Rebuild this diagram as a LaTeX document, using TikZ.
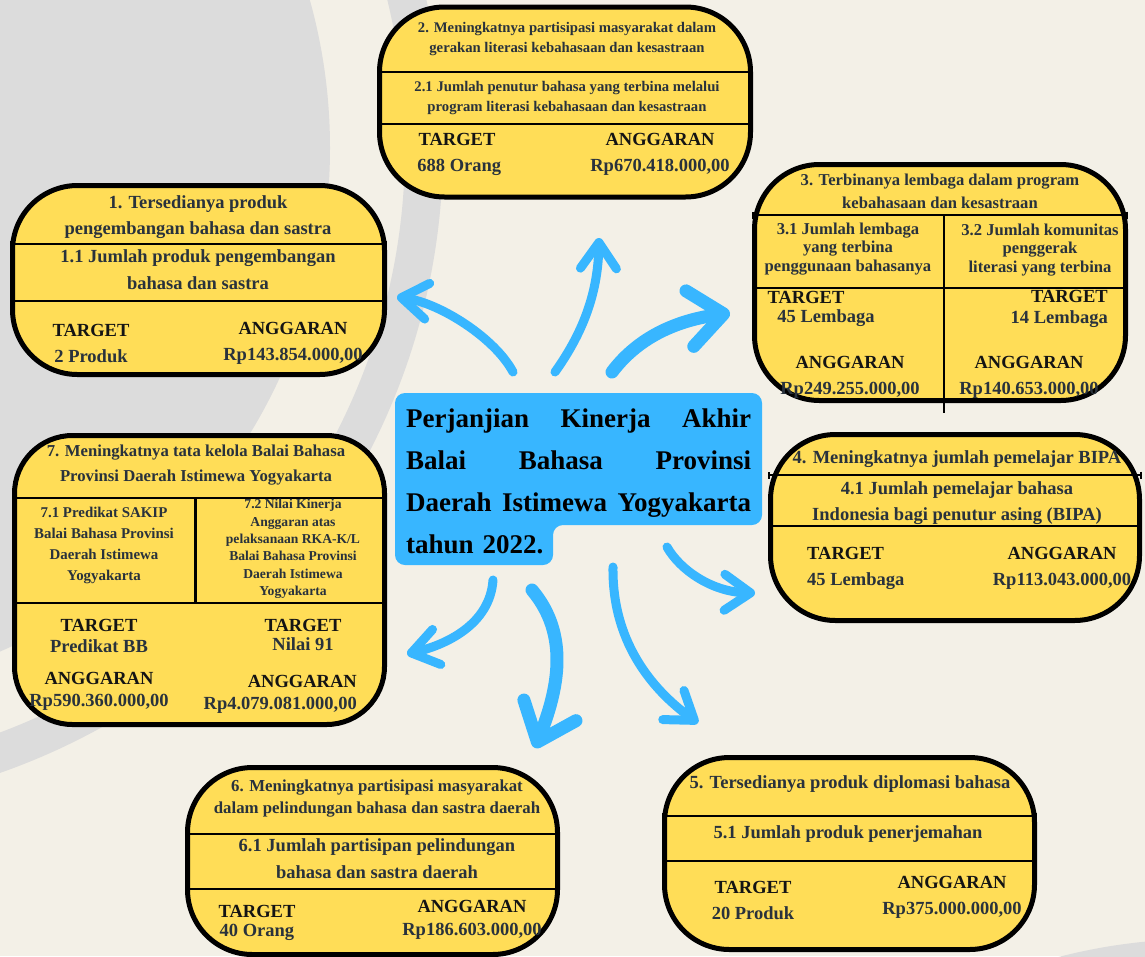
\documentclass[tikz,border=0pt]{standalone}
\usepackage{fontspec}
\setmainfont{Liberation Serif}
\usetikzlibrary{arrows.meta}
\definecolor{cream}{HTML}{F3F0E7}
\definecolor{bggray}{HTML}{DCDCDC}
\definecolor{panelyellow}{HTML}{FFDD57}
\definecolor{flowblue}{HTML}{38B6FF}
\definecolor{ink}{HTML}{29323C}
\definecolor{headblack}{HTML}{141414}
\newcommand{\headword}[1]{\textcolor{headblack}{#1}}
\tikzstyle{panel} = [draw, line width=5pt, fill=panelyellow, rounded corners=65pt, inner sep=0pt]
\tikzstyle{divider} = [draw, line width=2pt, {Bar[width=7pt]}-{Bar[width=7pt]}]
\tikzstyle{txt} = [align=center, text=ink, inner sep=0pt, font=\bfseries\fontsize{18.5}{26}\selectfont]
\tikzstyle{smalltxt} = [txt, font=\bfseries\fontsize{14.7}{20}\selectfont]
\tikzstyle{midtxt} = [txt, font=\bfseries\fontsize{16.6}{23}\selectfont]
\tikzstyle{flow} = [draw=flowblue, line width=9pt, line cap=round, -{Straight Barb[length=26pt,width=36pt,round]}]
\tikzstyle{bigflow} = [flow, line width=13pt, -{Straight Barb[length=34pt,width=56pt,round]}]

\begin{document}
\begin{tikzpicture}[x=1pt,y=-1pt]
\useasboundingbox (0,0) rectangle (1145,956);
% background
\fill[cream] (0,0) rectangle (1145,956);
\begin{scope}
\clip (0,0) rectangle (1145,956);
\fill[bggray] (-219,148) circle (549pt);
\fill[bggray, even odd rule] (-219,148) circle (662pt) (-219,148) circle (624pt);
\fill[bggray] (1200,1500) circle (561pt);
\end{scope}

% arrow ends
\coordinate (a1s) at (513,372);
\coordinate (a1e) at (397,297);
\coordinate (a2s) at (555,372);
\coordinate (a2e) at (599,238);
\coordinate (a3s) at (612,372);
\coordinate (a3e) at (730,313);
\coordinate (a4s) at (667,547);
\coordinate (a4e) at (755,593);
\coordinate (a5s) at (613,567);
\coordinate (a5e) at (698,723);
\coordinate (a6s) at (532,590);
\coordinate (a6e) at (535,748);
\coordinate (a7s) at (493,580);
\coordinate (a7e) at (407,654);
\draw[flow] (a1s) .. controls (495,338) and (440,303) .. (a1e);
\draw[flow] (a2s) .. controls (585,330) and (598,290) .. (a2e);
\draw[bigflow] (a3s) .. controls (640,335) and (680,320) .. (a3e);
\draw[flow] (a4s) .. controls (680,570) and (712,592) .. (a4e);
\draw[flow] (a5s) .. controls (612,640) and (650,688) .. (a5e);
\draw[bigflow] (a6s) .. controls (570,635) and (558,690) .. (a6e);
\draw[flow] (a7s) .. controls (490,625) and (445,645) .. (a7e);

% panels
\node (g1) at (198.5,280) [panel, minimum width=372pt, minimum height=189pt] {};
\node (g2) at (565,102) [panel, minimum width=371pt, minimum height=190pt] {};
\node (g3) at (940,282.5) [panel, minimum width=371pt, minimum height=236pt] {};
\node (g4) at (955,527.5) [panel, minimum width=369pt, minimum height=186pt] {};
\node (g5) at (849.5,853.5) [panel, minimum width=370pt, minimum height=192pt] {};
\node (g6) at (372.5,861) [panel, minimum width=370pt, minimum height=187pt] {};
\node (g7) at (199.5,580) [panel, minimum width=370pt, minimum height=289pt, rounded corners=58pt] {};
% dividers
\path[divider] (g1.west |- 0,244) -- (g1.east |- 0,244);
\path[divider] (g1.west |- 0,301) -- (g1.east |- 0,301);
\path[divider] (g2.west |- 0,72) -- (g2.east |- 0,72);
\path[divider] (g2.west |- 0,124) -- (g2.east |- 0,124);
\path[divider] (g3.west |- 0,215) -- (g3.east |- 0,215);
\path[divider] (g3.west |- 0,288) -- (g3.east |- 0,288);
\draw[line width=2.5pt] (944,215) -- (944,413);
\path[divider] (g4.west |- 0,475) -- (g4.east |- 0,475);
\path[divider] (g4.west |- 0,526) -- (g4.east |- 0,526);
\path[divider] (g5.west |- 0,816) -- (g5.east |- 0,816);
\path[divider] (g5.west |- 0,861) -- (g5.east |- 0,861);
\path[divider] (g6.west |- 0,834) -- (g6.east |- 0,834);
\path[divider] (g6.west |- 0,889) -- (g6.east |- 0,889);
\path[divider] (g7.west |- 0,498) -- (g7.east |- 0,498);
\path[divider] (g7.west |- 0,603) -- (g7.east |- 0,603);
\draw[line width=3pt] (195,498) -- (195,603);

% box 1
\node (t1) at (198,217) [txt] {1. Tersedianya produk\\pengembangan bahasa dan sastra};
\node (i1) at (198,270) [txt, font=\bfseries\fontsize{18.5}{27}\selectfont] {1.1 Jumlah produk pengembangan\\bahasa dan sastra};
\node (tg1) at (91,343) [txt] {\headword{TARGET}\\2 Produk};
\node (ag1) at (293,343) [txt] {\headword{ANGGARAN}\\Rp143.854.000,00};
% box 2
\node (t2) at (567,39) [smalltxt] {2. Meningkatnya partisipasi masyarakat dalam\\gerakan literasi kebahasaan dan kesastraan};
\node (i2) at (567,98) [smalltxt] {2.1 Jumlah penutur bahasa yang terbina melalui\\program literasi kebahasaan dan kesastraan};
\node (tg2) at (457,154) [txt] {\headword{TARGET}\\\ 688 Orang};
\node (ag2) at (660,154) [txt] {\headword{ANGGARAN}\\Rp670.418.000,00};
% box 3
\node (t3) at (940,191) [midtxt] {3. Terbinanya lembaga dalam program\\kebahasaan dan kesastraan};
\node (i31) at (848,249) [midtxt, font=\bfseries\fontsize{16.6}{18.5}\selectfont] {3.1 Jumlah lembaga\\yang terbina\\penggunaan bahasanya};
\node (i32) at (1040,250) [midtxt, font=\bfseries\fontsize{16.6}{18.5}\selectfont] {3.2 Jumlah komunitas\\penggerak\\literasi yang terbina};
\node (tg31) at (806,297) [txt] {\headword{TARGET}};
\node (v31) at (826,318) [txt] {45 Lembaga};
\node (ag31) at (850,377) [txt] {\headword{ANGGARAN}\\Rp249.255.000,00};
\node (tg32) at (1108,309) [txt, anchor=east, align=right, font=\bfseries\fontsize{18.5}{21}\selectfont] {\headword{TARGET}\\14 Lembaga};
\node (ag32) at (1029,377) [txt] {\headword{ANGGARAN}\\Rp140.653.000,00};
% box 4
\node (t4) at (957,459) [txt] {4. Meningkatnya jumlah pemelajar BIPA};
\node (i4) at (957,503) [txt] {4.1 Jumlah pemelajar bahasa\\Indonesia bagi penutur asing (BIPA)};
\node (tg4) at (807,568) [txt, anchor=west, align=left] {\headword{TARGET}\\45 Lembaga};
\node (ag4) at (1062,568) [txt] {\headword{ANGGARAN}\\Rp113.043.000,00};
% box 5
\node (t5) at (850,784) [txt] {5. Tersedianya produk diplomasi bahasa};
\node (i5) at (848,834) [txt] {5.1 Jumlah produk penerjemahan};
\node (tg5) at (753,900) [txt] {\headword{TARGET}\\20 Produk};
\node (ag5) at (952,897) [txt] {\headword{ANGGARAN}\\Rp375.000.000,00};
% box 6
\node (t6) at (377,799) [midtxt, font=\bfseries\fontsize{16.8}{22}\selectfont] {6. Meningkatnya partisipasi masyarakat\\dalam pelindungan bahasa dan sastra daerah};
\node (i6) at (377,859) [txt, font=\bfseries\fontsize{18.5}{27}\selectfont] {6.1 Jumlah partisipan pelindungan\\bahasa dan sastra daerah};
\node (tg6) at (257,923) [txt, font=\bfseries\fontsize{18.5}{19}\selectfont] {\headword{TARGET}\\40 Orang};
\node (ag6) at (472,920) [txt, font=\bfseries\fontsize{18.5}{23}\selectfont] {\headword{ANGGARAN}\\Rp186.603.000,00};
% box 7
\node (t7) at (196,465) [midtxt, font=\bfseries\fontsize{16.7}{25}\selectfont] {7. Meningkatnya tata kelola Balai Bahasa\\Provinsi Daerah Istimewa Yogyakarta};
\node (i71) at (104,545) [txt, font=\bfseries\fontsize{14.9}{21}\selectfont] {7.1 Predikat SAKIP\\Balai Bahasa Provinsi\\Daerah Istimewa\\Yogyakarta};
\node (i72) at (293,549) [txt, font=\bfseries\fontsize{13.6}{17.3}\selectfont] {7.2 Nilai Kinerja\\Anggaran atas\\pelaksanaan RKA-K/L\\Balai Bahasa Provinsi\\Daerah Istimewa\\Yogyakarta};
\node (tg71) at (99,636) [txt, font=\bfseries\fontsize{18.5}{21}\selectfont] {\headword{TARGET}\\Predikat BB};
\node (ag71) at (99,691) [txt, font=\bfseries\fontsize{18.5}{22}\selectfont] {\headword{ANGGARAN}\\Rp590.360.000,00};
\node (tg72) at (303,635) [txt, font=\bfseries\fontsize{18.5}{19}\selectfont] {\headword{TARGET}\\Nilai 91};
\node (ag72) at (357,694) [txt, anchor=east, align=right, font=\bfseries\fontsize{18.5}{22}\selectfont] {\headword{ANGGARAN}\\Rp4.079.081.000,00};

% centre
\fill[flowblue, rounded corners=10pt] (395,393) -- (762,393) -- (762,525) -- (553,525) -- (553,565) -- (395,565) -- cycle;
\node (hub) at (406,427) [anchor=base west, text width=345pt, align=left, inner sep=0pt, text=black, font=\bfseries\fontsize{27}{42}\selectfont] {Perjanjian\hfill Kinerja\hfill Akhir\\Balai\hfill Bahasa\hfill Provinsi\\Daerah\hfill Istimewa\hfill Yogyakarta\\tahun 2022.};
\end{tikzpicture}
\end{document}
